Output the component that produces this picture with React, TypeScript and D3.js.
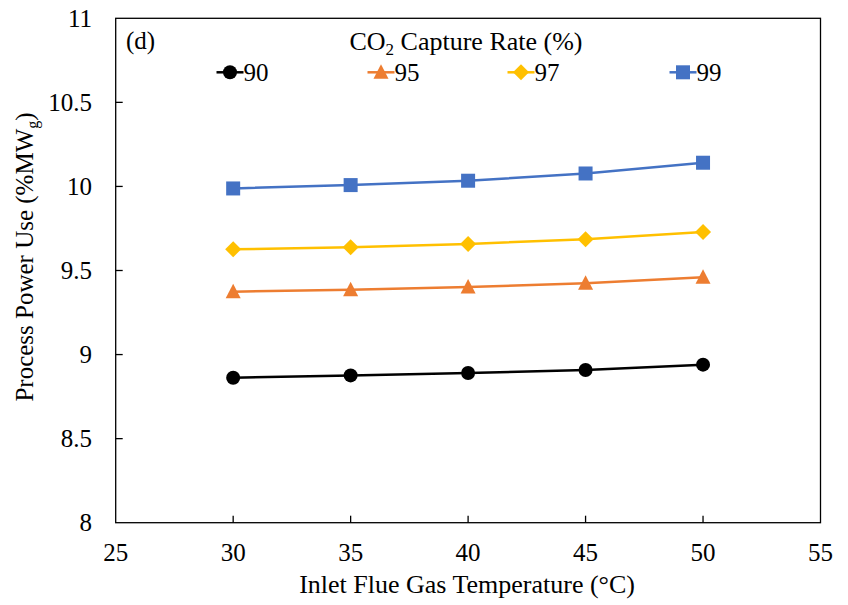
import React from "react";
import * as d3 from "d3";

const temps = [30, 35, 40, 45, 50];
const rate90 = [8.862, 8.876, 8.890, 8.908, 8.940];
const rate95 = [9.374, 9.386, 9.402, 9.424, 9.460];
const rate97 = [9.626, 9.638, 9.658, 9.686, 9.729];
const rate99 = [9.988, 10.008, 10.034, 10.077, 10.141];
const seriesNames = ["90", "95", "97", "99"];
const xTicks = [25, 30, 35, 40, 45, 50, 55];
const yTicks = [8, 8.5, 9, 9.5, 10, 10.5, 11];

const colors = ["#000000", "#ED7D31", "#FFC000", "#4472C4"];
const shapes = ["circle", "triangle", "diamond", "square"];

const W = 848, H = 605;
const L = 115.7, R = 820.5, T = 18.3, B = 522.7;
const FONT = "'Liberation Serif', 'Times New Roman', serif";
const ts = { fontFamily: FONT };

function Marker({ shape, x, y, color }: { shape: string; x: number; y: number; color: string }) {
  if (shape === "circle") return <circle cx={x} cy={y} r={7} fill={color} />;
  if (shape === "square") return <rect x={x - 7} y={y - 7} width={14} height={14} fill={color} />;
  if (shape === "diamond") return <path d={`M${x},${y - 8}L${x + 8},${y}L${x},${y + 8}L${x - 8},${y}Z`} fill={color} />;
  return <path d={`M${x},${y - 8}L${x + 7.5},${y + 6.5}L${x - 7.5},${y + 6.5}Z`} fill={color} />;
}

export default function App() {
  const x = d3.scaleLinear().domain([25, 55]).range([L, R]);
  const y = d3.scaleLinear().domain([8, 11]).range([B, T]);
  const all = [rate90, rate95, rate97, rate99];
  const line = d3.line<[number, number]>().x((d) => x(d[0])).y((d) => y(d[1]));
  const legendX = [230, 381, 521, 683];
  const legendY = 72.3;
  return (
    <svg width={W} height={H} style={{ position: "absolute", left: 0, top: 0, background: "#fff", fontFamily: FONT }}>
      <rect x={0} y={0} width={W} height={H} fill="#fff" />
      <rect x={L} y={T} width={R - L} height={B - T} fill="none" stroke="#000" strokeWidth={1.3} />
      {xTicks.slice(1, -1).map((t) => (
        <line key={"xt" + t} x1={x(t)} x2={x(t)} y1={B} y2={B - 7} stroke="#000" strokeWidth={1.3} />
      ))}
      {yTicks.slice(1, -1).map((t) => (
        <line key={"yt" + t} x1={L} x2={L + 7} y1={y(t)} y2={y(t)} stroke="#000" strokeWidth={1.3} />
      ))}
      {xTicks.map((t) => (
        <text key={"xl" + t} x={x(t)} y={561} fontSize={25} textAnchor="middle" style={ts}>{t}</text>
      ))}
      {yTicks.map((t) => (
        <text key={"yl" + t} x={92} y={y(t) + 8.5} fontSize={25} textAnchor="end" style={ts}>{t}</text>
      ))}
      {all.map((vals, i) => {
        const pts: [number, number][] = temps.map((t, j) => [t, vals[j]]);
        return (
          <g key={"s" + i}>
            <path d={line(pts) || ""} fill="none" stroke={colors[i]} strokeWidth={2.5} />
            {pts.map((p, j) => (
              <Marker key={j} shape={shapes[i]} x={x(p[0])} y={y(p[1])} color={colors[i]} />
            ))}
          </g>
        );
      })}
      <text x={126} y={49} fontSize={25} style={ts}>(d)</text>
      <text x={466} y={50} fontSize={26} textAnchor="middle" style={ts}>
        CO<tspan fontSize={17} dy={5}>2</tspan><tspan dy={-5}> Capture Rate (%)</tspan>
      </text>
      {seriesNames.map((n, i) => (
        <g key={"lg" + i}>
          <line x1={legendX[i] - 13.5} x2={legendX[i] + 13.5} y1={legendY} y2={legendY} stroke={colors[i]} strokeWidth={2.5} />
          <Marker shape={shapes[i]} x={legendX[i]} y={legendY} color={colors[i]} />
          <text x={legendX[i] + 13.5} y={legendY + 8.5} fontSize={25} style={ts}>{n}</text>
        </g>
      ))}
      <text x={(L + R) / 2 - 1} y={593} fontSize={26} textAnchor="middle" style={ts}>Inlet Flue Gas Temperature (°C)</text>
      <text transform={`translate(33, 257) rotate(-90)`} fontSize={25} textAnchor="middle" style={ts}>
        Process Power Use (%MW<tspan fontSize={16} dy={5}>g</tspan><tspan dy={-5}>)</tspan>
      </text>
    </svg>
  );
}
